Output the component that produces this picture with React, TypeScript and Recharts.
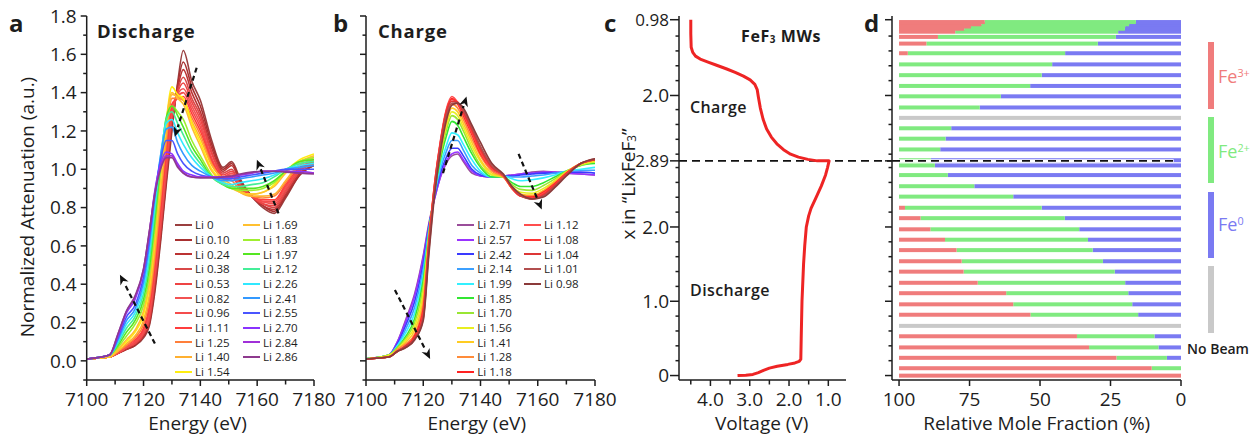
import React from "react";
import {
  LineChart, Line, XAxis, YAxis, ReferenceLine, Legend,
  ScatterChart, Scatter, BarChart, Bar,
} from "recharts";

const FONT = "'Open Sans', 'Noto Sans', sans-serif";
const INK = "#1d1d1d";

// ---------- panels a / b : Fe K-edge spectra ----------
const ENERGY = [7100, 7108, 7111, 7114, 7117, 7120, 7122, 7124, 7126, 7128, 7130, 7132, 7134, 7137, 7140, 7144, 7148, 7151, 7154, 7158, 7162, 7166, 7170, 7175, 7180];
const E_TICKS = [7100, 7110, 7120, 7130, 7140, 7150, 7160, 7170, 7180];
const E_LABELED = [7100, 7120, 7140, 7160, 7180];
const A_TICKS = [-0.1, 0, 0.1, 0.2, 0.3, 0.4, 0.5, 0.6, 0.7, 0.8, 0.9, 1.0, 1.1, 1.2, 1.3, 1.4, 1.5, 1.6, 1.7, 1.8];
const A_LABELED = [0, 0.2, 0.4, 0.6, 0.8, 1.0, 1.2, 1.4, 1.6, 1.8];
const A_LABELS = ["0.0", "0.2", "0.4", "0.6", "0.8", "1.0", "1.2", "1.4", "1.6", "1.8"];

const DIS_NAMES = ["Li 0", "Li 0.10", "Li 0.24", "Li 0.38", "Li 0.53", "Li 0.82", "Li 0.96", "Li 1.11", "Li 1.25", "Li 1.40", "Li 1.54", "Li 1.69", "Li 1.83", "Li 1.97", "Li 2.12", "Li 2.26", "Li 2.41", "Li 2.55", "Li 2.70", "Li 2.84", "Li 2.86"];
const DIS_COLORS = ["#9a3f3f", "#a83030", "#bb3333", "#d94848", "#ee4444", "#f25252", "#f44c4c", "#ff3d3d", "#ff7f3a", "#ffb030", "#ffee10", "#ffc030", "#a0ee30", "#55e622", "#44ee99", "#30e8ff", "#3399ff", "#4a55ff", "#8a33ff", "#a030d8", "#8e3a8e"];
const DIS_VALUES = [
  [0.01, 0.02, 0.04, 0.06, 0.08, 0.12, 0.18, 0.36, 0.62, 0.92, 1.20, 1.45, 1.62, 1.46, 1.36, 1.15, 1.01, 1.04, 0.95, 0.86, 0.80, 0.77, 0.85, 0.97, 1.02],
  [0.01, 0.02, 0.04, 0.06, 0.08, 0.13, 0.19, 0.38, 0.64, 0.94, 1.22, 1.44, 1.56, 1.43, 1.33, 1.13, 1.00, 1.03, 0.94, 0.86, 0.81, 0.78, 0.86, 0.97, 1.02],
  [0.01, 0.02, 0.04, 0.06, 0.09, 0.13, 0.20, 0.40, 0.66, 0.96, 1.24, 1.42, 1.52, 1.40, 1.30, 1.11, 0.99, 1.02, 0.93, 0.86, 0.81, 0.79, 0.87, 0.98, 1.02],
  [0.01, 0.02, 0.04, 0.07, 0.09, 0.14, 0.21, 0.42, 0.68, 0.98, 1.26, 1.41, 1.48, 1.37, 1.28, 1.09, 0.98, 1.00, 0.92, 0.86, 0.82, 0.80, 0.88, 0.99, 1.03],
  [0.01, 0.02, 0.04, 0.07, 0.09, 0.14, 0.22, 0.44, 0.70, 1.00, 1.28, 1.40, 1.45, 1.35, 1.26, 1.08, 0.97, 0.99, 0.92, 0.86, 0.82, 0.81, 0.89, 0.99, 1.03],
  [0.01, 0.02, 0.04, 0.07, 0.10, 0.15, 0.24, 0.46, 0.73, 1.03, 1.30, 1.39, 1.42, 1.33, 1.24, 1.06, 0.96, 0.98, 0.91, 0.86, 0.83, 0.82, 0.90, 1.00, 1.03],
  [0.01, 0.02, 0.04, 0.07, 0.10, 0.16, 0.26, 0.48, 0.76, 1.06, 1.32, 1.38, 1.40, 1.31, 1.22, 1.05, 0.96, 0.97, 0.91, 0.86, 0.83, 0.83, 0.91, 1.00, 1.04],
  [0.01, 0.02, 0.05, 0.08, 0.11, 0.17, 0.28, 0.50, 0.79, 1.09, 1.34, 1.37, 1.38, 1.29, 1.20, 1.04, 0.96, 0.96, 0.90, 0.86, 0.84, 0.84, 0.92, 1.01, 1.04],
  [0.01, 0.02, 0.05, 0.08, 0.12, 0.19, 0.31, 0.54, 0.84, 1.14, 1.37, 1.37, 1.36, 1.27, 1.18, 1.03, 0.95, 0.94, 0.89, 0.86, 0.85, 0.86, 0.93, 1.02, 1.05],
  [0.01, 0.02, 0.05, 0.09, 0.13, 0.21, 0.34, 0.58, 0.88, 1.18, 1.39, 1.38, 1.36, 1.25, 1.16, 1.02, 0.95, 0.92, 0.88, 0.86, 0.86, 0.87, 0.94, 1.03, 1.06],
  [0.01, 0.02, 0.06, 0.10, 0.15, 0.24, 0.38, 0.63, 0.95, 1.25, 1.43, 1.39, 1.37, 1.24, 1.14, 1.00, 0.94, 0.91, 0.88, 0.87, 0.88, 0.92, 0.99, 1.05, 1.08],
  [0.01, 0.02, 0.06, 0.11, 0.16, 0.26, 0.40, 0.65, 0.96, 1.25, 1.40, 1.37, 1.34, 1.22, 1.12, 0.99, 0.93, 0.90, 0.88, 0.87, 0.88, 0.91, 0.98, 1.04, 1.07],
  [0.01, 0.03, 0.07, 0.13, 0.19, 0.29, 0.44, 0.70, 1.00, 1.25, 1.33, 1.30, 1.26, 1.15, 1.07, 0.97, 0.92, 0.90, 0.89, 0.89, 0.90, 0.93, 0.99, 1.04, 1.06],
  [0.01, 0.03, 0.08, 0.15, 0.21, 0.32, 0.48, 0.74, 1.03, 1.27, 1.33, 1.28, 1.22, 1.12, 1.05, 0.96, 0.92, 0.90, 0.90, 0.90, 0.91, 0.94, 0.99, 1.04, 1.05],
  [0.01, 0.03, 0.09, 0.17, 0.23, 0.35, 0.52, 0.78, 1.05, 1.26, 1.30, 1.24, 1.18, 1.09, 1.03, 0.96, 0.92, 0.91, 0.91, 0.92, 0.93, 0.96, 1.00, 1.03, 1.04],
  [0.01, 0.03, 0.10, 0.19, 0.25, 0.38, 0.56, 0.82, 1.07, 1.24, 1.26, 1.19, 1.13, 1.06, 1.01, 0.96, 0.93, 0.92, 0.93, 0.94, 0.95, 0.97, 1.00, 1.02, 1.03],
  [0.01, 0.03, 0.11, 0.21, 0.27, 0.41, 0.60, 0.85, 1.07, 1.21, 1.22, 1.14, 1.08, 1.02, 0.99, 0.96, 0.94, 0.94, 0.95, 0.96, 0.97, 0.98, 1.00, 1.01, 1.02],
  [0.01, 0.03, 0.12, 0.23, 0.29, 0.44, 0.63, 0.87, 1.05, 1.15, 1.15, 1.08, 1.03, 0.99, 0.97, 0.96, 0.95, 0.95, 0.96, 0.97, 0.98, 0.99, 1.00, 1.00, 1.00],
  [0.01, 0.03, 0.13, 0.25, 0.32, 0.47, 0.66, 0.89, 1.03, 1.09, 1.08, 1.03, 0.99, 0.97, 0.96, 0.96, 0.96, 0.96, 0.97, 0.98, 0.99, 0.99, 0.99, 0.99, 0.98],
  [0.01, 0.03, 0.14, 0.26, 0.33, 0.48, 0.67, 0.88, 1.01, 1.07, 1.07, 1.02, 0.98, 0.96, 0.96, 0.96, 0.96, 0.96, 0.97, 0.98, 0.99, 0.99, 0.99, 0.98, 0.98],
  [0.01, 0.03, 0.14, 0.26, 0.34, 0.48, 0.67, 0.87, 1.00, 1.06, 1.06, 1.01, 0.98, 0.96, 0.955, 0.955, 0.96, 0.965, 0.975, 0.985, 0.99, 0.99, 0.985, 0.98, 0.975],
];

const CHG_NAMES = ["Li 2.71", "Li 2.57", "Li 2.42", "Li 2.14", "Li 1.99", "Li 1.85", "Li 1.70", "Li 1.56", "Li 1.41", "Li 1.28", "Li 1.18", "Li 1.12", "Li 1.08", "Li 1.04", "Li 1.01", "Li 0.98"];
const CHG_COLORS = ["#9a4d9a", "#9933ff", "#3a3aff", "#3ca0ff", "#33f0ff", "#33e633", "#99e633", "#e8ee20", "#ffcc22", "#ff8c3a", "#ff2222", "#ff4d4d", "#ff3333", "#dd3636", "#b24f4f", "#8b3a3a"];
const CHG_VALUES = [
  [0.01, 0.03, 0.10, 0.22, 0.35, 0.55, 0.72, 0.85, 0.96, 1.03, 1.07, 1.08, 1.04, 0.98, 0.965, 0.96, 0.965, 0.97, 0.975, 0.985, 0.99, 0.985, 0.98, 0.975, 0.97],
  [0.01, 0.03, 0.10, 0.21, 0.34, 0.54, 0.71, 0.85, 0.96, 1.04, 1.08, 1.09, 1.05, 0.99, 0.965, 0.96, 0.965, 0.97, 0.975, 0.98, 0.985, 0.985, 0.98, 0.975, 0.97],
  [0.01, 0.03, 0.09, 0.19, 0.31, 0.51, 0.70, 0.86, 0.98, 1.06, 1.11, 1.11, 1.07, 1.00, 0.97, 0.96, 0.965, 0.965, 0.97, 0.975, 0.98, 0.98, 0.985, 0.985, 0.98],
  [0.01, 0.03, 0.08, 0.17, 0.28, 0.48, 0.69, 0.87, 1.00, 1.09, 1.15, 1.15, 1.10, 1.02, 0.98, 0.96, 0.965, 0.96, 0.96, 0.965, 0.97, 0.98, 0.99, 0.995, 0.995],
  [0.01, 0.03, 0.08, 0.15, 0.25, 0.45, 0.68, 0.88, 1.02, 1.12, 1.19, 1.18, 1.13, 1.05, 0.99, 0.96, 0.965, 0.95, 0.94, 0.945, 0.955, 0.97, 0.99, 1.00, 1.01],
  [0.01, 0.03, 0.07, 0.13, 0.22, 0.42, 0.67, 0.89, 1.05, 1.17, 1.25, 1.23, 1.17, 1.08, 1.01, 0.96, 0.96, 0.93, 0.91, 0.91, 0.93, 0.96, 0.99, 1.02, 1.03],
  [0.01, 0.03, 0.07, 0.12, 0.20, 0.39, 0.66, 0.90, 1.07, 1.20, 1.28, 1.26, 1.20, 1.10, 1.02, 0.97, 0.96, 0.92, 0.895, 0.89, 0.915, 0.95, 0.99, 1.02, 1.04],
  [0.01, 0.03, 0.06, 0.11, 0.18, 0.36, 0.65, 0.90, 1.09, 1.22, 1.30, 1.28, 1.22, 1.12, 1.04, 0.97, 0.96, 0.91, 0.88, 0.875, 0.90, 0.94, 0.985, 1.025, 1.04],
  [0.01, 0.02, 0.06, 0.10, 0.16, 0.33, 0.64, 0.91, 1.10, 1.24, 1.32, 1.30, 1.24, 1.14, 1.05, 0.98, 0.96, 0.90, 0.87, 0.865, 0.89, 0.935, 0.985, 1.03, 1.045],
  [0.01, 0.02, 0.06, 0.09, 0.14, 0.30, 0.64, 0.92, 1.12, 1.27, 1.34, 1.32, 1.26, 1.16, 1.07, 0.99, 0.96, 0.90, 0.865, 0.86, 0.885, 0.93, 0.98, 1.03, 1.05],
  [0.01, 0.02, 0.05, 0.08, 0.13, 0.27, 0.63, 0.93, 1.14, 1.30, 1.37, 1.34, 1.28, 1.18, 1.08, 1.00, 0.965, 0.90, 0.86, 0.855, 0.88, 0.925, 0.98, 1.03, 1.05],
  [0.01, 0.02, 0.05, 0.08, 0.12, 0.25, 0.62, 0.93, 1.15, 1.31, 1.38, 1.35, 1.29, 1.19, 1.09, 1.00, 0.965, 0.90, 0.86, 0.85, 0.875, 0.92, 0.975, 1.03, 1.05],
  [0.01, 0.02, 0.05, 0.08, 0.12, 0.24, 0.61, 0.92, 1.14, 1.30, 1.365, 1.35, 1.30, 1.20, 1.10, 1.01, 0.97, 0.905, 0.86, 0.85, 0.87, 0.92, 0.975, 1.03, 1.05],
  [0.01, 0.02, 0.05, 0.08, 0.12, 0.23, 0.60, 0.91, 1.13, 1.29, 1.355, 1.35, 1.30, 1.21, 1.11, 1.01, 0.97, 0.905, 0.86, 0.845, 0.865, 0.915, 0.97, 1.03, 1.05],
  [0.01, 0.02, 0.05, 0.07, 0.11, 0.22, 0.58, 0.89, 1.11, 1.27, 1.345, 1.345, 1.31, 1.22, 1.12, 1.02, 0.97, 0.91, 0.865, 0.845, 0.86, 0.91, 0.97, 1.03, 1.055],
  [0.01, 0.02, 0.05, 0.07, 0.11, 0.21, 0.56, 0.87, 1.09, 1.25, 1.335, 1.345, 1.32, 1.23, 1.14, 1.03, 0.975, 0.91, 0.87, 0.845, 0.855, 0.905, 0.965, 1.03, 1.055],
];

// dashed trend arrows: [fromE, fromA, toE, toA]
const DIS_ARROWS = [[7138.7, 1.53, 7131, 1.17], [7124, 0.09, 7111.7, 0.45], [7167.5, 0.77, 7159.9, 1.05]];
const CHG_ARROWS = [[7126.9, 0.98, 7135.1, 1.38], [7110.1, 0.37, 7122.4, 0.01], [7153.3, 1.08, 7161.4, 0.79]];

// ---------- panel c : voltage profile ----------
const C_POS = [0, 0.005, 0.015, 0.04, 0.07, 0.10, 0.125, 0.15, 0.17, 0.19, 0.22, 0.5, 1.0, 1.5, 1.75, 2.0, 2.15, 2.25, 2.4, 2.55, 2.7, 2.8, 2.89, 2.89, 2.91, 2.94, 2.98, 3.04, 3.12, 3.21, 3.32, 3.45, 3.60, 3.75, 3.85, 3.92, 3.98, 4.03, 4.08, 4.13, 4.18, 4.22, 4.26, 4.30, 4.35, 4.42, 4.60, 4.79];
const C_VOLT = [3.31, 3.10, 2.92, 2.78, 2.65, 2.50, 2.30, 2.03, 1.85, 1.74, 1.70, 1.69, 1.67, 1.63, 1.60, 1.56, 1.50, 1.44, 1.31, 1.18, 1.07, 1.02, 0.98, 1.28, 1.52, 1.76, 1.96, 2.14, 2.31, 2.45, 2.57, 2.66, 2.73, 2.78, 2.81, 2.87, 2.99, 3.16, 3.37, 3.60, 3.86, 4.06, 4.26, 4.38, 4.45, 4.49, 4.50, 4.50];
const V_TICKS = [1.0, 1.5, 2.0, 2.5, 3.0, 3.5, 4.0, 4.5];
const V_LABELED = [1.0, 2.0, 3.0, 4.0];
const PATH_TICKS = [0, 0.2, 0.4, 0.6, 0.8, 1, 1.2, 1.4, 1.6, 1.8, 2, 2.2, 2.4, 2.6, 2.8, 2.89, 2.98, 3.18, 3.38, 3.58, 3.77, 3.97, 4.17, 4.37, 4.57, 4.79];
const PATH_MAJOR = [0, 1, 2, 2.89, 3.77, 4.79];
const PATH_LABELS = ["0", "1.0", "2.0", "2.89", "2.0", "0.98"];

// ---------- panel d : Fe valence fractions ----------
const D_POS = [0, 0.10, 0.24, 0.38, 0.53, 0.67, 0.82, 0.96, 1.11, 1.25, 1.40, 1.54, 1.69, 1.83, 1.97, 2.12, 2.26, 2.41, 2.55, 2.70, 2.83, 2.90, 3.045, 3.19, 3.33, 3.47, 3.61, 3.76, 3.90, 4.045, 4.19, 4.34, 4.47, 4.56, 4.63, 4.67, 4.70, 4.73, 4.76];
const D_FE3 = [100, 89.6, 77.1, 67.4, 63.1, 0, 46.6, 40.5, 38.0, 27.9, 22.9, 22.2, 20.4, 16.3, 11.1, 7.6, 2.1, 0, 0, 0, 0, 0, 0, 0, 0, 0, 0, 0, 0, 0, 0, 3.1, 9.7, 13.8, 19.9, 23.1, 25.5, 29.2, 30.4];
const D_FE2 = [0, 10.4, 17.9, 24.6, 27.5, 0, 38.2, 42.2, 43.3, 52.3, 53.6, 50.1, 48.3, 50.7, 52.8, 51.2, 48.5, 40.5, 26.7, 17.3, 12.7, 11.3, 14.6, 16.5, 18.5, 0, 28.6, 36.1, 46.5, 50.6, 54.3, 55.8, 60.8, 63.1, 57.8, 57.0, 54.7, 52.4, 53.6];
const D_FE0 = [0, 0, 5.0, 8.0, 9.4, 0, 15.2, 17.3, 18.7, 19.8, 23.5, 27.7, 31.3, 33.0, 36.1, 41.2, 49.4, 59.5, 73.3, 82.7, 87.3, 88.7, 85.4, 83.5, 81.5, 0, 71.4, 63.9, 53.5, 49.4, 45.7, 41.1, 29.5, 23.1, 22.3, 19.9, 19.8, 18.4, 16.0];
const D_NB = [0, 0, 0, 0, 0, 100, 0, 0, 0, 0, 0, 0, 0, 0, 0, 0, 0, 0, 0, 0, 0, 0, 0, 0, 0, 100, 0, 0, 0, 0, 0, 0, 0, 0, 0, 0, 0, 0, 0];
const F_TICKS = [0, 25, 50, 75, 100];

const RED = "#f07c7c";
const GREEN = "#80ea80";
const BLUE = "#7a7af2";
const GRAY = "#c9c9c9";

const TS = 6;
const TG = 4;
const TICK_FONT = 19;
const axisLine = { stroke: INK, strokeWidth: 1.5 };

const finder = (vals: number[], labels: string[]) => (v: number) => {
  const i = vals.findIndex((t) => Math.abs(t - v) < 1e-6);
  return i >= 0 ? labels[i] : null;
};

function bottomTick(labelFor: (v: number) => string | null) {
  return (p: any) => {
    const label = labelFor(p.payload.value);
    const y0 = p.y - TS - TG;
    return (
      <g>
        <line x1={p.x} x2={p.x} y1={y0} y2={y0 + (label ? 6 : 4.5)} stroke={INK} strokeWidth={1.5} />
        {label && (
          <text x={p.x} y={y0 + 25.5} textAnchor="middle" fontSize={TICK_FONT} fontFamily={FONT} fill={INK}>{label}</text>
        )}
      </g>
    );
  };
}

function leftTick(labelFor: (v: number) => string | null, isMajor: (v: number) => boolean, majorLen = 6, gap = 10) {
  return (p: any) => {
    const v = p.payload.value;
    const label = labelFor(v);
    const x0 = p.x + TS + TG;
    return (
      <g>
        <line x1={x0} x2={x0 - (isMajor(v) ? majorLen : 3.5)} y1={p.y} y2={p.y} stroke={INK} strokeWidth={1.5} />
        {label && (
          <text x={x0 - gap} y={p.y} dy="0.36em" textAnchor="end" fontSize={label.length > 3 ? 17 : TICK_FONT}
            fontFamily={FONT} fill={INK}>{label}</text>
        )}
      </g>
    );
  };
}

const energyTick = bottomTick((v) => (E_LABELED.includes(v) ? String(v) : null));
const attnLabel = finder(A_LABELED, A_LABELS);
const attnTick = leftTick(attnLabel, (v) => attnLabel(v) !== null);
const attnTickBare = leftTick(() => null, (v) => attnLabel(v) !== null);
const voltTick = bottomTick((v) => (V_LABELED.some((t) => Math.abs(t - v) < 1e-6) ? v.toFixed(1) : null));
const pathLabel = finder(PATH_MAJOR, PATH_LABELS);
const pathTick = leftTick(pathLabel, (v) => pathLabel(v) !== null, 9, 10);
const pathTickBare = leftTick(() => null, (v) => pathLabel(v) !== null, 7);
const fracTick = bottomTick((v) => String(v));

const arrowShape = (p: any) => {
  const { x1, y1, x2, y2 } = p;
  const ang = Math.atan2(y2 - y1, x2 - x1);
  const L = 10;
  const W = 4.5;
  const bx = x2 - L * Math.cos(ang);
  const by = y2 - L * Math.sin(ang);
  const nx = -Math.sin(ang);
  const ny = Math.cos(ang);
  const pts = `${x2},${y2} ${bx + W * nx},${by + W * ny} ${bx + 3 * Math.cos(ang)},${by + 3 * Math.sin(ang)} ${bx - W * nx},${by - W * ny}`;
  return (
    <g>
      <line x1={x1} y1={y1} x2={bx} y2={by} stroke="#111" strokeWidth={2.2} strokeDasharray="5 3.5" />
      <polygon points={pts} fill="#111" />
    </g>
  );
};

const legendContent = (names: string[], colors: string[], colWidth: number) => () => {
  const cols = [names.slice(0, 11), names.slice(11)];
  return (
    <div style={{ display: "flex", fontFamily: FONT }}>
      {cols.map((col, c) => (
        <div key={c} style={{ width: colWidth }}>
          {col.map((n, i) => (
            <div key={n} style={{ display: "flex", alignItems: "center", height: 14.67 }}>
              <span style={{ display: "inline-block", width: 17, borderTop: `2px solid ${colors[c * 11 + i]}`, marginRight: 3 }} />
              <span style={{ fontSize: 11.5, color: INK, lineHeight: 1 }}>{n}</span>
            </div>
          ))}
        </div>
      ))}
    </div>
  );
};

function SpectraPanel(props: {
  left: number; width: number; marginLeft: number; marginRight: number; yWidth: number;
  names: string[]; colors: string[]; values: number[][]; arrows: number[][];
  legendLeft: number; colWidth: number; yLabels: boolean;
}) {
  const data = ENERGY.map((e, i) => {
    const row: Record<string, number> = { e };
    props.values.forEach((vals, k) => { row["s" + k] = vals[i]; });
    return row;
  });
  return (
    <div style={{ position: "absolute", left: props.left, top: 0 }}>
      <LineChart width={props.width} height={436} data={data}
        margin={{ top: 16, right: props.marginRight, bottom: 0, left: props.marginLeft }}>
        <XAxis type="number" dataKey="e" domain={[7100, 7180]} ticks={E_TICKS} interval={0} allowDataOverflow
          height={56} tickSize={TS} tickMargin={TG} tickLine={false} axisLine={axisLine} tick={energyTick} />
        <XAxis xAxisId="top" orientation="top" type="number" domain={[7100, 7180]} height={0}
          tick={false} tickLine={false} axisLine={axisLine} />
        <YAxis type="number" domain={[-0.1, 1.8]} ticks={A_TICKS} interval={0} allowDataOverflow
          width={props.yWidth} tickSize={TS} tickMargin={TG} tickLine={false} axisLine={axisLine}
          tick={props.yLabels ? attnTick : attnTickBare} />
        <YAxis yAxisId="right" orientation="right" type="number" domain={[-0.1, 1.8]} width={0}
          tick={false} tickLine={false} axisLine={axisLine} />
        {props.names.map((n, k) => (
          <Line key={n} type="monotone" dataKey={"s" + k} name={n} stroke={props.colors[k]}
            strokeWidth={1.6} dot={false} isAnimationActive={false} />
        ))}
        {props.arrows.map((a, i) => (
          <ReferenceLine key={i} segment={[{ x: a[0], y: a[1] }, { x: a[2], y: a[3] }]}
            shape={arrowShape} ifOverflow="visible" />
        ))}
        <Legend layout="vertical" align="center" verticalAlign="middle"
          content={legendContent(props.names, props.colors, props.colWidth)}
          wrapperStyle={{ left: props.legendLeft, top: 217.7, width: 150, height: 165 }} />
      </LineChart>
    </div>
  );
}

function VoltagePanel() {
  const data = C_POS.map((pos, i) => ({ pos, v: C_VOLT[i] }));
  return (
    <div style={{ position: "absolute", left: 600, top: 0 }}>
      <ScatterChart width={300} height={436} margin={{ top: 16, right: 54, bottom: 0, left: 44 }}>
        <XAxis type="number" dataKey="v" domain={[0.55, 4.8]} reversed ticks={V_TICKS} interval={0} allowDataOverflow
          height={56} tickSize={TS} tickMargin={TG} tickLine={false} axisLine={axisLine} tick={voltTick} />
        <XAxis xAxisId="top" orientation="top" type="number" domain={[0.55, 4.8]} height={0}
          tick={false} tickLine={false} axisLine={axisLine} />
        <YAxis type="number" dataKey="pos" domain={[-0.06, 4.84]} ticks={PATH_TICKS} interval={0} allowDataOverflow
          width={35} tickSize={TS} tickMargin={TG} tickLine={false} axisLine={axisLine} tick={pathTick} />
        <YAxis yAxisId="right" orientation="right" type="number" domain={[-0.06, 4.84]} width={0}
          tick={false} tickLine={false} axisLine={axisLine} />
        <ReferenceLine segment={[{ x: 4.8, y: 2.89 }, { x: -0.64, y: 2.89 }]} ifOverflow="visible"
          stroke="#111" strokeWidth={1.7} strokeDasharray="8 5" />
        <Scatter data={data} line={{ stroke: "#ee2424", strokeWidth: 3, strokeLinejoin: "round" }}
          shape={() => <g />} isAnimationActive={false} />
      </ScatterChart>
    </div>
  );
}

const thickBar = (fill: string) => (p: any) => {
  const w = Math.abs(p.width || 0);
  if (!w) return <g />;
  const x = Math.min(p.x, p.x + p.width);
  const cy = p.y + p.height / 2;
  return <rect x={x} y={cy - 2} width={w} height={4} fill={fill} />;
};

function FractionPanel() {
  const data = D_POS.map((pos, i) => ({ pos, fe3: D_FE3[i], fe2: D_FE2[i], fe0: D_FE0[i], nb: D_NB[i] }));
  return (
    <div style={{ position: "absolute", left: 850, top: 0 }}>
      <BarChart layout="vertical" width={400} height={436} data={data}
        margin={{ top: 16, right: 69, bottom: 0, left: 0 }}>
        <XAxis type="number" domain={[0, 102.5]} reversed ticks={F_TICKS} interval={0} allowDataOverflow
          height={56} tickSize={TS} tickMargin={TG} tickLine={false} axisLine={axisLine} tick={fracTick} />
        <XAxis xAxisId="top" orientation="top" type="number" domain={[0, 102.5]} reversed height={0}
          tick={false} tickLine={false} axisLine={axisLine} />
        <YAxis type="number" dataKey="pos" domain={[-0.06, 4.84]} reversed ticks={PATH_TICKS} interval={0} allowDataOverflow
          width={42} tickSize={TS} tickMargin={TG} tickLine={false} axisLine={axisLine} tick={pathTickBare} />
        <YAxis yAxisId="right" orientation="right" type="number" domain={[-0.06, 4.84]} width={0}
          tick={false} tickLine={false} axisLine={axisLine} />
        <Bar dataKey="fe0" stackId="s" fill={BLUE} shape={thickBar(BLUE)} isAnimationActive={false} />
        <Bar dataKey="fe2" stackId="s" fill={GREEN} shape={thickBar(GREEN)} isAnimationActive={false} />
        <Bar dataKey="fe3" stackId="s" fill={RED} shape={thickBar(RED)} isAnimationActive={false} />
        <Bar dataKey="nb" stackId="s" fill={GRAY} shape={thickBar(GRAY)} isAnimationActive={false} />
        <ReferenceLine segment={[{ x: 102.5, y: 2.89 }, { x: 2.6, y: 2.89 }]} stroke="#fff" strokeWidth={3} />
        <ReferenceLine segment={[{ x: 102.5, y: 2.89 }, { x: 2.6, y: 2.89 }]}
          stroke="#111" strokeWidth={1.7} strokeDasharray="8 5" />
      </BarChart>
    </div>
  );
}

function Txt(p: {
  x: number; y: number; size?: number; weight?: number; color?: string;
  anchor?: "start" | "middle"; rotate?: boolean; spacing?: number; children: React.ReactNode;
}) {
  const size = p.size ?? 19;
  const style: React.CSSProperties = {
    position: "absolute", left: p.x, top: p.rotate ? p.y : p.y - 0.888 * size,
    fontSize: size, fontWeight: p.weight ?? 400, color: p.color ?? INK, fontFamily: FONT,
    lineHeight: 1, whiteSpace: "nowrap", letterSpacing: p.spacing ?? 0,
    transform: p.rotate ? "translate(-50%, -50%) rotate(-90deg)" : p.anchor === "middle" ? "translateX(-50%)" : undefined,
  };
  return <div style={style}>{p.children}</div>;
}

const sub = { fontSize: "0.62em", verticalAlign: "-0.1em" } as React.CSSProperties;
const sup = { fontSize: "0.6em", verticalAlign: "0.55em" } as React.CSSProperties;

export default function App() {
  return (
    <div style={{ position: "absolute", left: 0, top: 0, width: 1252, height: 436, background: "#fff", overflow: "hidden" }}>
      <SpectraPanel left={0} width={345} marginLeft={22} marginRight={31} yWidth={64.7} names={DIS_NAMES} colors={DIS_COLORS}
        values={DIS_VALUES} arrows={DIS_ARROWS} legendLeft={175} colWidth={68} yLabels />
      <SpectraPanel left={340} width={291} marginLeft={0} marginRight={36} yWidth={26} names={CHG_NAMES} colors={CHG_COLORS}
        values={CHG_VALUES} arrows={CHG_ARROWS} legendLeft={117.3} colWidth={66.7} yLabels={false} />
      <VoltagePanel />
      <FractionPanel />

      {/* panel letters */}
      <Txt x={9} y={32} size={24} weight={700}>a</Txt>
      <Txt x={333} y={32} size={24} weight={700}>b</Txt>
      <Txt x={604} y={32} size={24} weight={700}>c</Txt>
      <Txt x={864} y={32} size={24} weight={700}>d</Txt>

      {/* in-panel titles */}
      <Txt x={97} y={38} size={18.5} weight={700} spacing={0.8}>Discharge</Txt>
      <Txt x={378} y={38} size={18.5} weight={700} spacing={0.8}>Charge</Txt>
      <Txt x={741} y={42} size={16} weight={700} spacing={0.6}>FeF<span style={sub}>3</span> MWs</Txt>
      <Txt x={690} y={113} size={16} weight={600} spacing={0.4}>Charge</Txt>
      <Txt x={690} y={296} size={16} weight={600} spacing={0.4}>Discharge</Txt>

      {/* axis titles */}
      <Txt x={197.5} y={431} anchor="middle">Energy (eV)</Txt>
      <Txt x={476.7} y={431} anchor="middle">Energy (eV)</Txt>
      <Txt x={761.7} y={431} anchor="middle">Voltage (V)</Txt>
      <Txt x={1036.7} y={431} anchor="middle">Relative Mole Fraction (%)</Txt>
      <Txt x={27} y={206.5} rotate>Normalized Attenuation (a.u.)</Txt>
      <Txt x={628} y={184} rotate>x in “LixFeF<span style={sub}>3</span>”</Txt>

      {/* panel d key */}
      <div style={{ position: "absolute", left: 1208, top: 42, width: 5.5, height: 67, background: RED }} />
      <div style={{ position: "absolute", left: 1208, top: 117, width: 5.5, height: 66, background: GREEN }} />
      <div style={{ position: "absolute", left: 1208, top: 192, width: 5.5, height: 66, background: BLUE }} />
      <div style={{ position: "absolute", left: 1208, top: 266, width: 5.5, height: 67, background: GRAY }} />
      <Txt x={1218} y={83} size={18} color={RED}>Fe<span style={sup}>3+</span></Txt>
      <Txt x={1218} y={158} size={18} color={GREEN}>Fe<span style={sup}>2+</span></Txt>
      <Txt x={1218} y={231} size={18} color={BLUE}>Fe<span style={sup}>0</span></Txt>
      <Txt x={1187} y={354} size={14} weight={600}>No Beam</Txt>
    </div>
  );
}
